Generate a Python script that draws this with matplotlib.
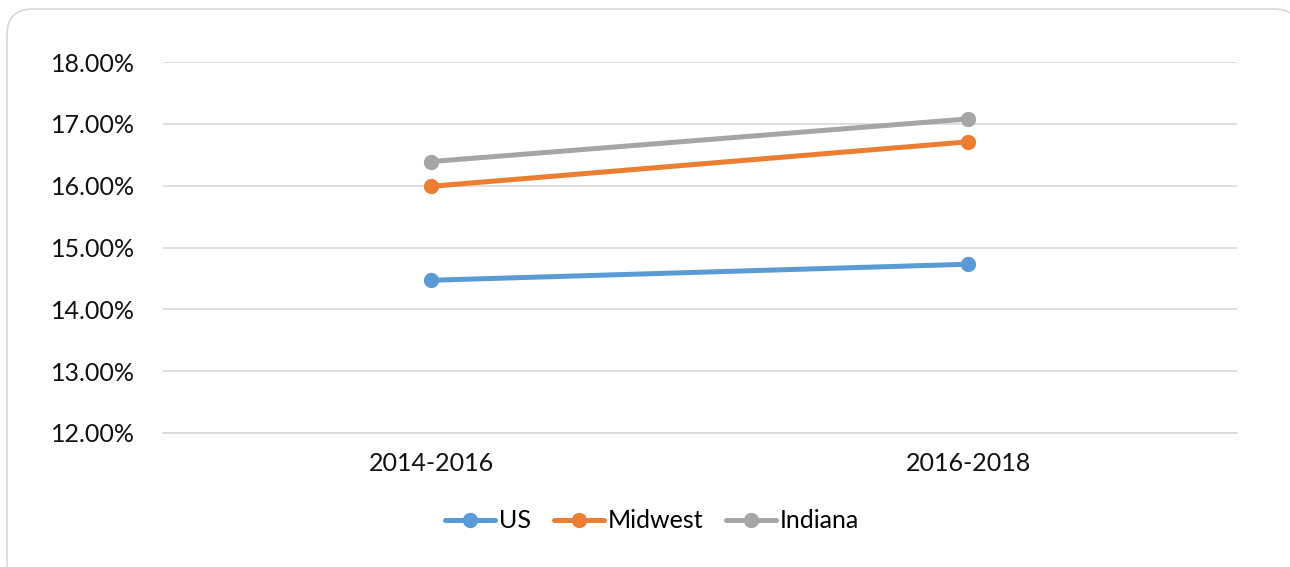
import matplotlib
matplotlib.use("Agg")
import matplotlib.pyplot as plt
from matplotlib.patches import FancyBboxPatch
from matplotlib.ticker import FuncFormatter

categories = ["2014-2016", "2016-2018"]
us = [14.47, 14.73]
midwest = [15.99, 16.71]
indiana = [16.39, 17.08]
yticks = [12, 13, 14, 15, 16, 17, 18]

plt.rcParams['font.family'] = ['Lato', 'DejaVu Sans']

W, H = 1290, 567
fig = plt.figure(figsize=(W/100, H/100), dpi=100)

frame = FancyBboxPatch((7/W, -20/H), (1300-7)/W, (567-9+20)/H,
                       boxstyle="round,pad=0,rounding_size=0.02",
                       transform=fig.transFigure, facecolor="white",
                       edgecolor="#D9D9D9", linewidth=1.2, mutation_aspect=W/H,
                       zorder=-10)
fig.patches.append(frame)

ax = fig.add_axes([163/W, 1-433/H, (1237-163)/W, (433-62)/H])
ax.set_facecolor("none")
ax.set_zorder(1)
x = list(range(len(categories)))
series = [("US", us, "#5B9BD5"), ("Midwest", midwest, "#ED7D31"), ("Indiana", indiana, "#A5A5A5")]
for name, vals, col in series:
    ax.plot(x, vals, color=col, lw=3.6, marker="o", ms=10, label=name, solid_capstyle="round")

ax.set_xlim(-0.5, 1.5)
ax.set_ylim(12, 18)
ax.set_yticks(yticks)
ax.yaxis.set_major_formatter(FuncFormatter(lambda v, p: f"{v:.2f}%"))
ax.set_xticks(x)
ax.set_xticklabels(categories)
ax.grid(axis="y", color="#D9D9D9", lw=1.2)
ax.set_axisbelow(True)
for s in ax.spines.values():
    s.set_visible(False)
ax.spines["bottom"].set_visible(True)
ax.spines["bottom"].set_color("#D9D9D9")
ax.spines["bottom"].set_linewidth(1.2)
ax.tick_params(axis="both", length=0, labelsize=18, labelcolor="#111111")
ax.tick_params(axis="y", pad=20)
ax.tick_params(axis="x", pad=14)

leg = fig.legend(loc="center", bbox_to_anchor=(652/W, 1-521/H), ncol=3, frameon=False,
                 fontsize=18, handlelength=2.0, handletextpad=0.15, columnspacing=0.9)
fig.savefig("out.png", dpi=100)
